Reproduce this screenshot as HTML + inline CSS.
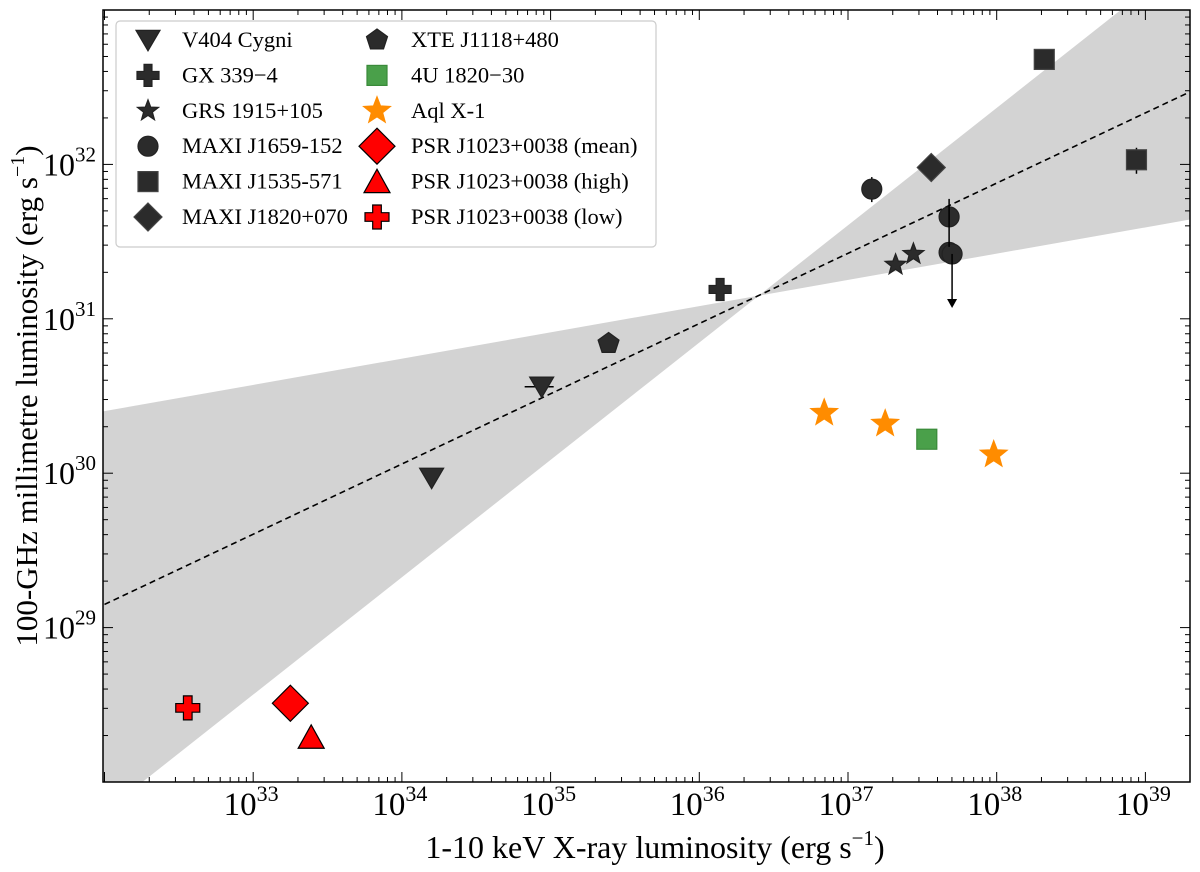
<!DOCTYPE html>
<html><head><meta charset="utf-8"><style>
html,body{margin:0;background:#fff;overflow:hidden;width:1200px;height:872px;}
svg{display:block;font-family:"Liberation Serif",serif;}
</style></head><body>
<svg id="chart" width="1200" height="872" xmlns="http://www.w3.org/2000/svg"></svg>
<script>
// ---- data (log10 values) ----
const v404X=[34.20,34.94], v404Y=[29.97,30.56];
const gxX=[36.14], gxY=[31.19];
const grsX=[37.32,37.44], grsY=[31.35,31.42];
const m1659X=[37.16,37.68,37.68,37.70], m1659Y=[31.84,31.66,31.43,31.42];
const m1535X=[38.32,38.94], m1535Y=[32.68,32.03];
const m1820X=[37.56], m1820Y=[31.98];
const xteX=[35.39], xteY=[30.84];
const u4X=[37.53], u4Y=[30.22];
const aqlX=[36.84,37.25,37.98], aqlY=[30.39,30.32,30.12];
const psrMeanX=[33.25], psrMeanY=[28.51];
const psrHighX=[33.39], psrHighY=[28.29];
const psrLowX=[32.56], psrLowY=[28.48];
const fitX=[32.0,39.3], fitY=[29.15,32.47];
const bandPivot=[36.40,31.15], bandSlopes=[0.17,0.76];
const xTicks=[33,34,35,36,37,38,39], yTicks=[29,30,31,32];
const legendLabels=["V404 Cygni","GX 339\u22124","GRS 1915+105","MAXI J1659-152","MAXI J1535-571","MAXI J1820+070","XTE J1118+480","4U 1820\u221230","Aql X-1","PSR J1023+0038 (mean)","PSR J1023+0038 (high)","PSR J1023+0038 (low)"];

const L=103,R=1190,T=10,B=782, X0=31.99,X1=39.30,Y0=28,Y1=33;
const sx=v=>L+(v-X0)/(X1-X0)*(R-L);
const sy=v=>B-(v-Y0)/(Y1-Y0)*(B-T);
const NS="http://www.w3.org/2000/svg";
const svg=document.getElementById('chart');
function mk(tag,attrs,parent){const e=document.createElementNS(NS,tag);for(const k in attrs)e.setAttribute(k,attrs[k]);(parent||svg).appendChild(e);return e;}

const defs=mk('defs',{});
const cp=mk('clipPath',{id:'clip'},defs);mk('rect',{x:L,y:T,width:R-L,height:B-T},cp);
const plot=mk('g',{'clip-path':'url(#clip)'});



// band
const bx0=X0-1,bx1=X1+1;
const ys=bandSlopes.map(s=>[bandPivot[1]+s*(bx0-bandPivot[0]),bandPivot[1]+s*(bx1-bandPivot[0])]);
const band=mk('path',{d:`M${sx(bx0)},${sy(ys[0][0])} L${sx(bandPivot[0])},${sy(bandPivot[1])} L${sx(bx0)},${sy(ys[1][0])} Z M${sx(bx1)},${sy(ys[0][1])} L${sx(bandPivot[0])},${sy(bandPivot[1])} L${sx(bx1)},${sy(ys[1][1])} Z`,fill:'#d3d3d3'},plot);


const fit=mk('line',{x1:sx(fitX[0]),y1:sy(fitY[0]),x2:sx(fitX[1]),y2:sy(fitY[1]),stroke:'#000','stroke-width':1.6,'stroke-dasharray':'6,4'},plot);



// marker shapes
function shape(type,cx,cy,s,fill,stroke,parent,name){
  let e;const h=s/2;
  const st={fill:fill,stroke:stroke,'stroke-width':1.2};
  if(type==='tri_down')e=mk('polygon',Object.assign({points:`${cx-h},${cy-h*0.8} ${cx+h},${cy-h*0.8} ${cx},${cy+h*0.9}`},st),parent);
  else if(type==='tri_up')e=mk('polygon',Object.assign({points:`${cx-h},${cy+h*0.85} ${cx+h},${cy+h*0.85} ${cx},${cy-h*0.95}`},st),parent);
  else if(type==='plus'){const a=h*0.36;e=mk('polygon',Object.assign({points:`${cx-a},${cy-h} ${cx+a},${cy-h} ${cx+a},${cy-a} ${cx+h},${cy-a} ${cx+h},${cy+a} ${cx+a},${cy+a} ${cx+a},${cy+h} ${cx-a},${cy+h} ${cx-a},${cy+a} ${cx-h},${cy+a} ${cx-h},${cy-a} ${cx-a},${cy-a}`},st),parent);}
  else if(type==='star'||type==='pent'){let pts=[];for(let i=0;i<(type==='star'?10:5);i++){const r=type==='star'?(i%2?h*0.42:h):h;const ang=-Math.PI/2+i*Math.PI/(type==='star'?5:2.5);pts.push((cx+r*Math.cos(ang)).toFixed(1)+','+(cy+r*Math.sin(ang)).toFixed(1));}e=mk('polygon',Object.assign({points:pts.join(' ')},st),parent);}
  else if(type==='circle')e=mk('circle',Object.assign({cx:cx,cy:cy,r:h},st),parent);
  else if(type==='square')e=mk('rect',Object.assign({x:cx-h,y:cy-h,width:s,height:s},st),parent);
  else if(type==='diamond')e=mk('polygon',Object.assign({points:`${cx},${cy-h} ${cx+h},${cy} ${cx},${cy+h} ${cx-h},${cy}`},st),parent);
  
  
  return e;
}
const series=[
 {xs:v404X,ys:v404Y,t:'tri_down',s:24,f:'#2b2b2b',e:'#222',n:'v404-cygni'},
 {xs:gxX,ys:gxY,t:'plus',s:22,f:'#2b2b2b',e:'#222',n:'gx-339-4'},
 {xs:grsX,ys:grsY,t:'star',s:22,f:'#2b2b2b',e:'#222',n:'grs-1915'},
 {xs:m1659X,ys:m1659Y,t:'circle',s:20,f:'#2b2b2b',e:'#222',n:'maxi-j1659'},
 {xs:m1535X,ys:m1535Y,t:'square',s:20,f:'#2b2b2b',e:'#444',n:'maxi-j1535'},
 {xs:m1820X,ys:m1820Y,t:'diamond',s:28,f:'#2b2b2b',e:'#444',n:'maxi-j1820'},
 {xs:xteX,ys:xteY,t:'pent',s:22,f:'#2b2b2b',e:'#222',n:'xte-j1118'},
 {xs:u4X,ys:u4Y,t:'square',s:20,f:'#4aa04a',e:'#3a8a3a',n:'4u-1820'},
 {xs:aqlX,ys:aqlY,t:'star',s:28,f:'#ff8c00',e:'#ff8c00',n:'aql-x-1'},
 {xs:psrMeanX,ys:psrMeanY,t:'diamond',s:36,f:'#ff0000',e:'#000',n:'psr-mean'},
 {xs:psrHighX,ys:psrHighY,t:'tri_up',s:26,f:'#ff0000',e:'#000',n:'psr-high'},
 {xs:psrLowX,ys:psrLowY,t:'plus',s:24,f:'#ff0000',e:'#000',n:'psr-low'}
];
function ln(x1,y1,x2,y2,name,w){const e=mk('line',{x1,y1,x2,y2,stroke:'#000','stroke-width':w||1.5},plot);return e;}
ln(sx(v404X[1])-17,sy(v404Y[1]),sx(v404X[1])+12,sy(v404Y[1]),'v404-xerr');
ln(sx(m1659X[0]),sy(m1659Y[0])-12,sx(m1659X[0]),sy(m1659Y[0])+13,'j1659-yerr');
ln(sx(m1535X[1]),sy(m1535Y[1])-12,sx(m1535X[1]),sy(m1535Y[1])+14,'j1535-yerr');
series.forEach(se=>se.xs.forEach((x,i)=>shape(se.t,sx(x),sy(se.ys[i]),se.s,se.f,se.e,plot,se.n+'-point')));
ln(sx(m1659X[1]),sy(m1659Y[1])-18,sx(m1659X[1]),sy(m1659Y[1])+30,'j1659-limit-bar');
ln(sx(m1659X[3]),sy(m1659Y[3]),sx(m1659X[3]),sy(m1659Y[3])+48,'upper-limit-arrow');
const ah=mk('polygon',{points:`${sx(m1659X[3])-5},${sy(m1659Y[3])+45} ${sx(m1659X[3])+5},${sy(m1659Y[3])+45} ${sx(m1659X[3])},${sy(m1659Y[3])+54}`,fill:'#000'},plot);



// axes frame & ticks
const ax=mk('g',{});


mk('rect',{x:L,y:T,width:R-L,height:B-T,fill:'none',stroke:'#000','stroke-width':1.5},ax);
for(let d=32;d<=39;d++)for(let m=1;m<10;m++){const v=d+Math.log10(m);if(v<X0||v>X1)continue;const x=sx(v),len=m===1?10:5;
 mk('line',{x1:x,y1:B,x2:x,y2:B-len,stroke:'#000','stroke-width':1},ax);mk('line',{x1:x,y1:T,x2:x,y2:T+len,stroke:'#000','stroke-width':1},ax);}
for(let d=28;d<=32;d++)for(let m=1;m<10;m++){const v=d+Math.log10(m);if(v<Y0||v>Y1)continue;const y=sy(v),len=m===1?10:5;
 mk('line',{x1:L,y1:y,x2:L+len,y2:y,stroke:'#000','stroke-width':1},ax);mk('line',{x1:R,y1:y,x2:R-len,y2:y,stroke:'#000','stroke-width':1},ax);}
xTicks.forEach(t=>{const e=mk('text',{x:sx(t)-2,y:815,'font-size':33,'text-anchor':'middle'},ax);e.innerHTML=`10<tspan dy="-14" font-size="22">${t}</tspan>`;
 });
yTicks.forEach(t=>{const e=mk('text',{x:96,y:sy(t)+11,'font-size':32,'text-anchor':'end'},ax);e.innerHTML=`10<tspan dy="-14" font-size="21">${t}</tspan>`;
 });
const xt=mk('text',{x:655,y:858,'font-size':32,'text-anchor':'middle'},ax);xt.innerHTML='1-10 keV X-ray luminosity (erg s<tspan dy="-13" font-size="21">\u22121</tspan><tspan dy="13">)</tspan>';


const yt=mk('text',{x:0,y:0,'font-size':31,'text-anchor':'middle',transform:`translate(37,${(T+B)/2}) rotate(-90)`},ax);yt.innerHTML='100-GHz millimetre luminosity (erg s<tspan dy="-13" font-size="20">\u22121</tspan><tspan dy="13">)</tspan>';



// legend
const lg=mk('g',{});


mk('rect',{x:116,y:21,width:540,height:226,rx:4,fill:'#fff','fill-opacity':0.85,stroke:'#ccc','stroke-width':1.2},lg);
series.forEach((se,i)=>{const col=i<6?0:1,row=i%6;const mx=col?377:148,tx=col?411:182,y=40+row*35.4;
 shape(se.t,mx,y,se.s,se.f,se.e,lg,'legend-marker');
 const e=mk('text',{x:tx,y:y+7,'font-size':22.5},lg);e.textContent=legendLabels[i];
 });
</script>
</body></html>
